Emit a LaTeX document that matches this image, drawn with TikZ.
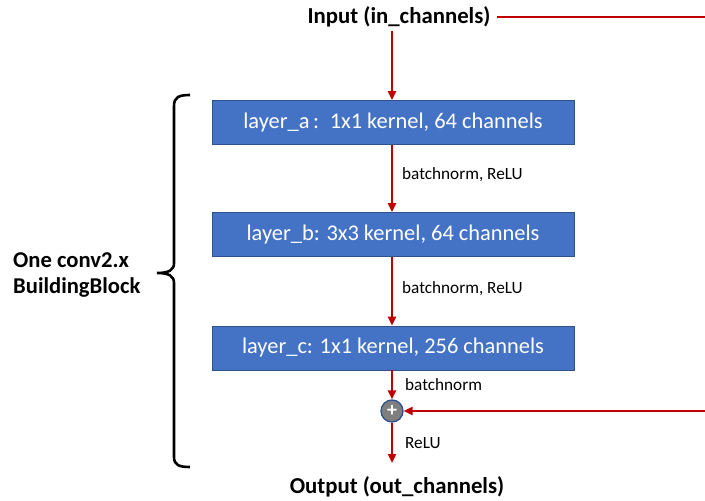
\documentclass[tikz,border=0pt]{standalone}
\usepackage{fontspec}
\setmainfont{Carlito}
\usetikzlibrary{arrows.meta}
\definecolor{boxblue}{HTML}{4472C4}
\definecolor{boxedge}{HTML}{2F528F}
\definecolor{arrred}{HTML}{C00000}
\definecolor{sumgray}{HTML}{7F7F7F}
\tikzset{
  layerbox/.style={draw=boxedge, line width=0.8pt, fill=boxblue, text=white,
    minimum width=362pt, minimum height=44pt, inner sep=0pt, font=\fontsize{22.4}{24}\selectfont},
  redarrow/.style={draw=arrred, line width=2.4pt, -{Triangle[length=9pt,width=8pt]}},
  redline/.style={draw=arrred, line width=2.4pt},
  smalllabel/.style={anchor=west, inner sep=0pt, font=\fontsize{17.2}{19}\selectfont},
  boldlabel/.style={inner sep=0pt, font=\bfseries\fontsize{22.8}{24}\selectfont},
  sumnode/.style={circle, draw=boxedge, line width=1.3pt, fill=sumgray, minimum size=22pt, inner sep=0pt, text=white, font=\bfseries\fontsize{20}{20}\selectfont},
  bracepath/.style={draw=black, line width=2.6pt}
}
\begin{document}
\begin{tikzpicture}[x=1pt, y=-1pt]
\useasboundingbox (0,0) rectangle (705,501);
\node[boldlabel] (in) at (399,17) {Input (in\_channels)};
\node[layerbox] (la) at (393,122.5) {layer\_a\,:\, 1x1 kernel, 64 channels};
\node[layerbox] (lb) at (393,234.5) {layer\_b: 3x3 kernel, 64 channels};
\node[layerbox] (lc) at (393,348) {layer\_c: 1x1 kernel, 256 channels};
\node[sumnode] (sum) at (392,411) {+};
\node[boldlabel] (out) at (397,487) {Output (out\_channels)};
\coordinate (outend) at (392,463);
\coordinate (skipA) at (705,17);
\coordinate (skipB) at (705,411);
\coordinate (inarr) at (392,31);
% main path
\draw[redarrow] (inarr) -- (la.north -| inarr);
\draw[redarrow] (la.south -| inarr) -- (lb.north -| inarr);
\draw[redarrow] (lb.south -| inarr) -- (lc.north -| inarr);
\draw[redarrow] (lc.south -| inarr) -- (sum.north);
\draw[redarrow] (sum.south) -- (outend);
% skip connection
\draw[redline] (in.east) ++(6,0) coordinate (inline) -- (skipA);
\draw[redarrow] (skipB) -- (sum.east);
% labels
\node[smalllabel] (l1) at (402,175) {batchnorm, ReLU};
\node[smalllabel] (l2) at (402,289) {batchnorm, ReLU};
\node[smalllabel] (l3) at (405,385) {batchnorm};
\node[smalllabel] (l4) at (405,443) {ReLU};
% brace
\draw[bracepath] (190,95) .. controls (179,95) and (174,97) .. (174,106) -- (174,263)
  .. controls (174,270) and (169,273) .. (157,273)
  .. controls (169,273) and (174,276) .. (174,283) -- (174,457)
  .. controls (174,465) and (179,467) .. (190,467);
\node[boldlabel, align=left, anchor=west, font=\bfseries\fontsize{22.6}{26}\selectfont] (blk) at (13,275) {One conv2.x\\BuildingBlock};
\end{tikzpicture}
\end{document}
